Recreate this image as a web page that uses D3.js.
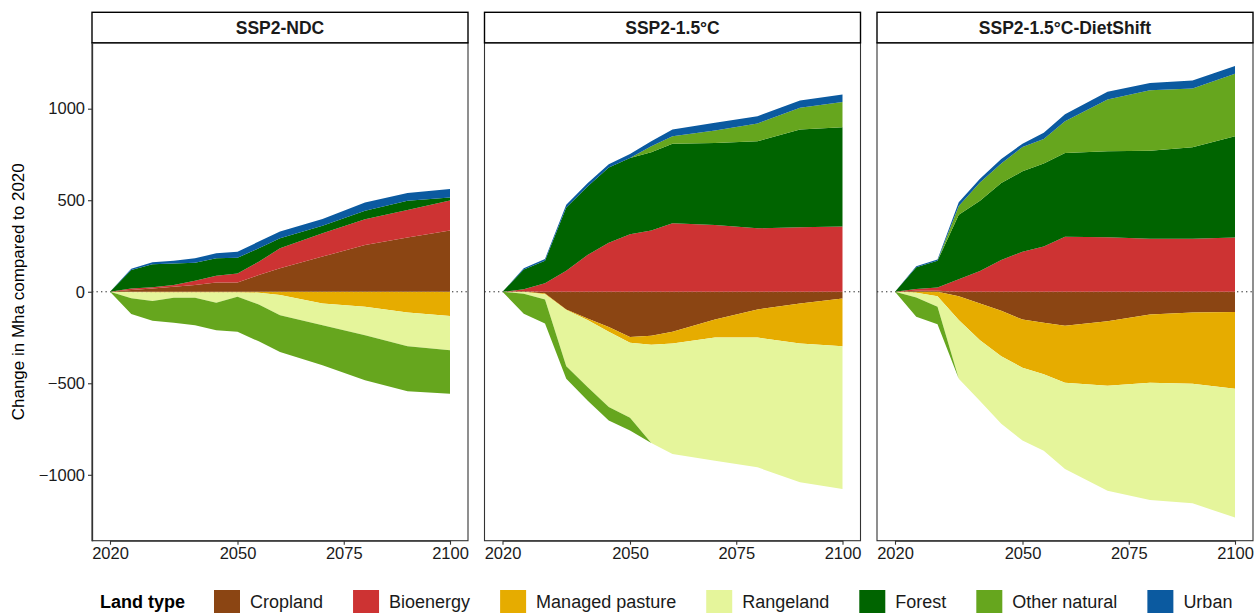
<!DOCTYPE html>
<html><head><meta charset="utf-8">
<script src="https://cdn.jsdelivr.net/npm/d3@7"></script>
<style>
body{margin:0;background:#fff}
svg{display:block}
text{font-family:"Liberation Sans", Arial, Helvetica, sans-serif}
</style>
</head><body>
<svg id="chart" width="1255" height="613"></svg>
<script>
// ---------------- DATA ----------------
const years = [2020, 2025, 2030, 2035, 2040, 2045, 2050, 2055, 2060, 2070, 2080, 2090, 2100];
const landTypes = ["Cropland", "Bioenergy", "Managed pasture", "Rangeland", "Forest", "Other natural", "Urban"];
const landColors = ["#8B4513", "#CD3333", "#E6AC00", "#E5F59B", "#006400", "#66A61E", "#0B5AA0"];
const scenarios = ["SSP2-NDC", "SSP2-1.5°C", "SSP2-1.5°C-DietShift"];

// SSP2-NDC
const ndcCropland   = [0, 9, 18, 27, 37, 51, 51, 91, 128, 192, 256, 296, 334];
const ndcBioenergy  = [0, 9, 6, 10, 23, 37, 49, 73, 109, 128, 140, 151, 165];
const ndcPasture    = [0, -3, -4, -4, -4, -4, -4, -5, -18, -64, -82, -113, -132];
const ndcRangeland  = [0, -33, -47, -29, -29, -56, -23, -64, -110, -119, -155, -185, -188];
const ndcForest     = [0, 101, 126, 118, 99, 95, 86, 73, 55, 40, 47, 50, 16];
const ndcOtherNat   = [0, -85, -108, -137, -150, -150, -192, -202, -201, -219, -247, -246, -237];
const ndcUrban      = [0, 7, 11, 15, 24, 27, 33, 37, 37, 37, 44, 42, 46];

// SSP2-1.5°C
const c15Cropland   = [0, 3, -9, -97, -146, -192, -247, -241, -219, -151, -97, -64, -37];
const c15Bioenergy  = [0, 10, 46, 115, 201, 268, 314, 334, 374, 365, 347, 352, 356];
const c15Pasture    = [0, -1, -4, -3, -9, -27, -32, -48, -64, -99, -153, -219, -261];
const c15Rangeland  = [0, -10, -29, -307, -366, -411, -410, -537, -603, -673, -709, -758, -780];
const c15Forest     = [0, 109, 124, 345, 374, 411, 417, 428, 435, 448, 475, 534, 543];
const c15OtherNat   = [0, -109, -132, -68, -73, -73, -69, 33, 40, 68, 97, 119, 137];
const c15Urban      = [0, 6, 9, 15, 18, 18, 22, 27, 37, 42, 40, 40, 42];

// SSP2-1.5°C-DietShift
const dsCropland    = [0, 5, 6, -24, -64, -104, -152, -170, -186, -161, -124, -113, -110];
const dsBioenergy   = [0, 10, 17, 68, 113, 174, 219, 247, 301, 298, 289, 289, 296];
const dsPasture     = [0, -5, -24, -131, -201, -249, -263, -281, -311, -352, -373, -389, -420];
const dsRangeland   = [0, -26, -58, -320, -332, -368, -398, -417, -471, -574, -641, -654, -703];
const dsForest      = [0, 119, 146, 352, 384, 420, 439, 453, 457, 469, 481, 501, 553];
const dsOtherNat    = [0, -106, -95, 49, 100, 106, 133, 135, 174, 283, 331, 320, 342];
const dsUrban       = [0, 5, 7, 20, 20, 25, 18, 33, 37, 42, 40, 44, 42];

const yTicks = [-1000, -500, 0, 500, 1000];
const xTicks = [2020, 2050, 2075, 2100];
const yTitle = "Change in Mha compared to 2020";
const legendTitle = "Land type";

// ---------------- BUILD ----------------
const panelSeries = [
  [ndcCropland, ndcBioenergy, ndcPasture, ndcRangeland, ndcForest, ndcOtherNat, ndcUrban],
  [c15Cropland, c15Bioenergy, c15Pasture, c15Rangeland, c15Forest, c15OtherNat, c15Urban],
  [dsCropland, dsBioenergy, dsPasture, dsRangeland, dsForest, dsOtherNat, dsUrban]
];

const svg = d3.select("#chart");
const panelLefts = [92, 484.5, 877];
const panelW = 376;
const stripTop = 12.3, stripBottom = 42.8;
const plotTop = 42.8, plotBottom = 540.7;
const inner = 18;

const y = d3.scaleLinear().domain([-1360, 1360]).range([plotBottom, plotTop]);
const color = d3.scaleOrdinal().domain(landTypes).range(landColors);

const posStack = d3.stack().keys(landTypes).value((d, k) => Math.max(d[k], 0));
const negStack = d3.stack().keys(landTypes).value((d, k) => Math.min(d[k], 0));

scenarios.forEach((scen, p) => {
  const left = panelLefts[p];
  const x = d3.scaleLinear().domain([2020, 2100]).range([left + inner, left + panelW - inner]);
  const rows = years.map((yr, i) => {
    const r = {year: yr};
    landTypes.forEach((k, j) => r[k] = panelSeries[p][j][i]);
    return r;
  });
  const g = svg.append("g");

  const clipId = "clip" + p;
  svg.append("clipPath").attr("id", clipId).append("rect")
    .attr("x", left).attr("y", plotTop).attr("width", panelW).attr("height", plotBottom - plotTop);

  const area = d3.area()
    .x(d => x(d.data.year))
    .y0(d => y(d[0]))
    .y1(d => y(d[1]));

  const dataG = g.append("g").attr("clip-path", `url(#${clipId})`);
  dataG.append("line")
    .attr("x1", left).attr("x2", left + panelW)
    .attr("y1", y(0)).attr("y2", y(0))
    .attr("stroke", "#000").attr("stroke-width", 1.2)
    .attr("stroke-dasharray", "1.3,3.2");

  [negStack(rows), posStack(rows)].forEach(st => {
    dataG.selectAll(null).data(st).enter().append("path")
      .attr("d", area)
      .attr("fill", d => color(d.key));
  });

  // faint dotted zero line showing through the areas
  dataG.append("line")
    .attr("x1", left).attr("x2", left + panelW)
    .attr("y1", y(0)).attr("y2", y(0))
    .attr("stroke", "#fff").attr("stroke-opacity", 0.25).attr("stroke-width", 1.1)
    .attr("stroke-dasharray", "1.3,3.2");

  g.append("rect").attr("x", left).attr("y", plotTop).attr("width", panelW).attr("height", plotBottom - plotTop)
    .attr("fill", "none").attr("stroke", "#333").attr("stroke-width", 1.1);

  g.append("rect").attr("x", left).attr("y", stripTop).attr("width", panelW).attr("height", stripBottom - stripTop)
    .attr("fill", "#fff").attr("stroke", "#000").attr("stroke-width", 1.4);
  g.append("text").attr("x", left + panelW / 2).attr("y", (stripTop + stripBottom) / 2)
    .attr("dy", "0.36em").attr("text-anchor", "middle")
    .attr("font-size", 17.5).attr("font-weight", "bold").attr("fill", "#1a1a1a").text(scen);

  const xAxis = d3.axisBottom(x).tickValues(xTicks).tickFormat(d3.format("d"))
    .tickSize(4).tickSizeOuter(0).tickPadding(3);
  const xg = g.append("g").attr("transform", `translate(0,${plotBottom})`).call(xAxis);
  xg.select(".domain").attr("stroke", "#333").attr("stroke-width", 1.3);
  xg.selectAll(".tick line").attr("stroke", "#333").attr("stroke-width", 1.1);
  xg.selectAll(".tick text").attr("font-size", 16.5).attr("fill", "#1a1a1a")
    .attr("font-family", "Liberation Sans, Arial, sans-serif");

  if (p === 0) {
    const yAxis = d3.axisLeft(y).tickValues(yTicks)
      .tickFormat(d => d < 0 ? "\u2212" + Math.abs(d) : d)
      .tickSize(4).tickSizeOuter(0).tickPadding(3);
    const yg = g.append("g").attr("transform", `translate(${left},0)`).call(yAxis);
    yg.select(".domain").attr("stroke", "#333").attr("stroke-width", 1.3);
    yg.selectAll(".tick line").attr("stroke", "#333").attr("stroke-width", 1.1);
    yg.selectAll(".tick text").attr("font-size", 16.5).attr("fill", "#1a1a1a")
      .attr("font-family", "Liberation Sans, Arial, sans-serif");
  }
});

svg.append("text")
  .attr("transform", `translate(24,${y(0)}) rotate(-90)`)
  .attr("text-anchor", "middle").attr("font-size", 17).attr("fill", "#000")
  .text(yTitle);

const legG = svg.append("g");
const legY = 590, keyS = 24;
legG.append("text").attr("x", 100).attr("y", legY + keyS / 2).attr("dy", "0.36em")
  .attr("font-size", 18).attr("font-weight", "bold").attr("fill", "#000").text(legendTitle);
let lx = 214;
landTypes.forEach((k) => {
  legG.append("rect").attr("x", lx).attr("y", legY).attr("width", 26).attr("height", keyS)
    .attr("fill", color(k));
  const t = legG.append("text").attr("x", lx + 36).attr("y", legY + keyS / 2).attr("dy", "0.36em")
    .attr("font-size", 18).attr("fill", "#1a1a1a").text(k);
  const w = t.node().getComputedTextLength();
  lx = lx + 36 + w + 30;
});
</script>
</body></html>
